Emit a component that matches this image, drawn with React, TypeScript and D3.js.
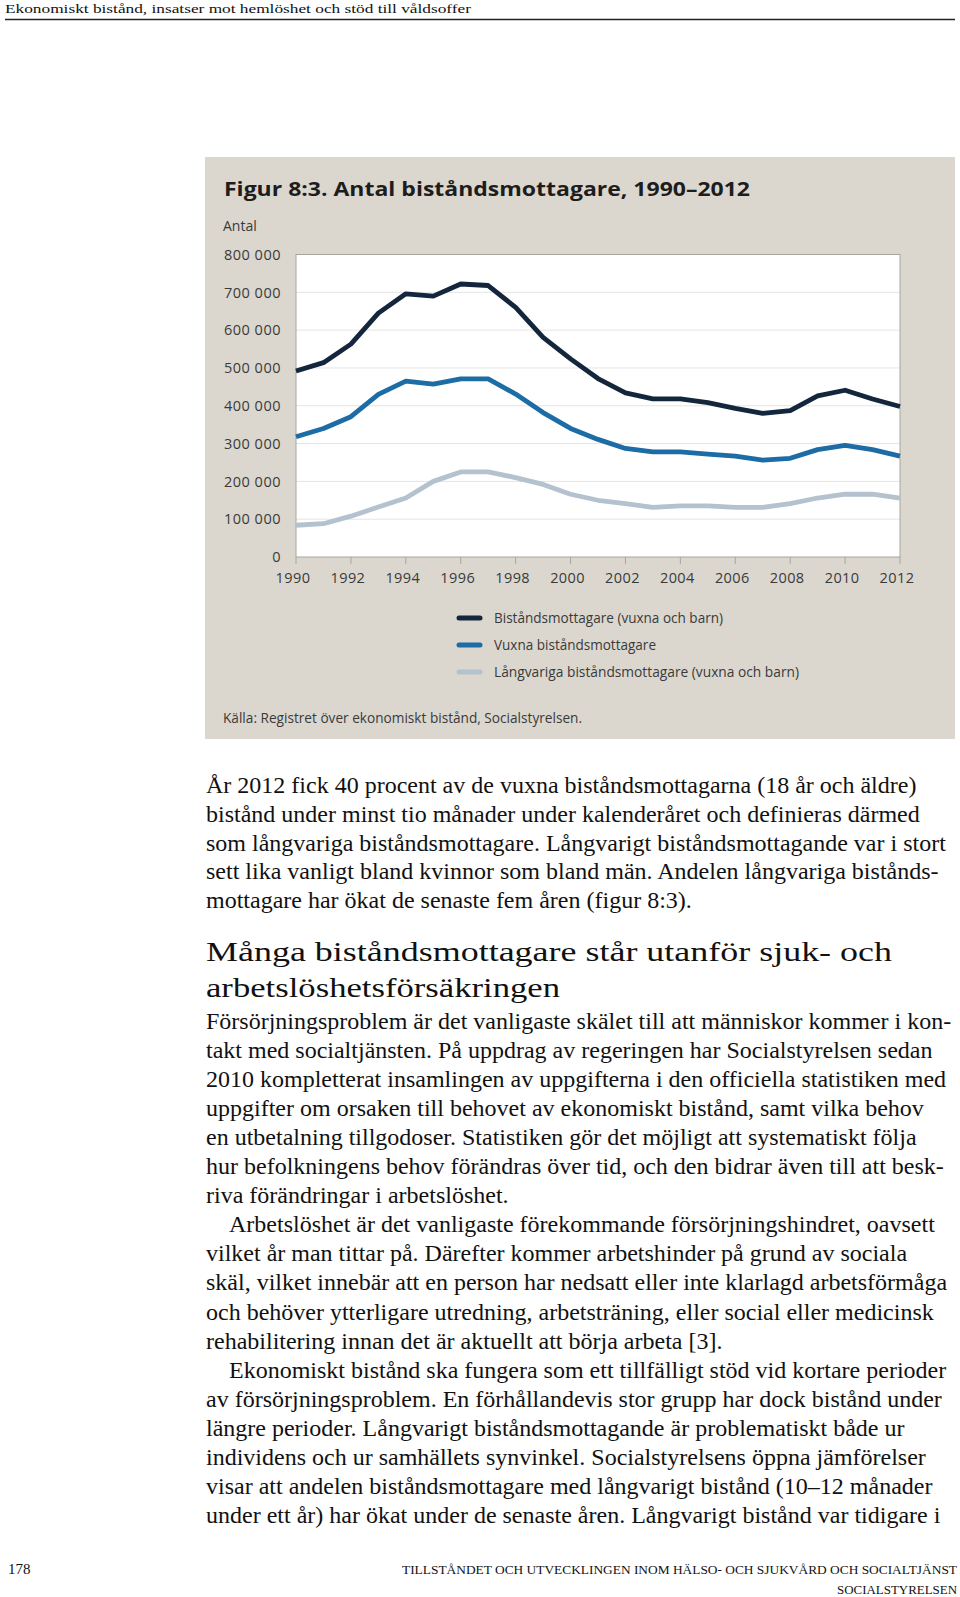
import React from "react";
import * as d3 from "d3";

// ---------- data ----------
const years = [1990, 1991, 1992, 1993, 1994, 1995, 1996, 1997, 1998, 1999, 2000, 2001, 2002, 2003, 2004, 2005, 2006, 2007, 2008, 2009, 2010, 2011, 2012];
const totalRecipients = [492000, 514000, 563000, 645000, 696000, 690000, 722000, 718000, 660000, 581000, 524000, 472000, 434000, 418000, 418000, 408000, 393000, 380000, 387000, 426000, 441000, 418000, 398000];
const adultRecipients = [318000, 340000, 371000, 430000, 465000, 457000, 471000, 471000, 431000, 382000, 340000, 311000, 287000, 278000, 278000, 272000, 267000, 256000, 261000, 284000, 295000, 284000, 267000];
const longTermRecipients = [84000, 88000, 108000, 132000, 156000, 200000, 225000, 225000, 210000, 192000, 166000, 150000, 141000, 131000, 135000, 135000, 131000, 131000, 141000, 156000, 166000, 166000, 156000];
const seriesNames = ["Biståndsmottagare (vuxna och barn)", "Vuxna biståndsmottagare", "Långvariga biståndsmottagare (vuxna och barn)"];
const yTicks = [0, 100000, 200000, 300000, 400000, 500000, 600000, 700000, 800000];
const xTicks = [1990, 1992, 1994, 1996, 1998, 2000, 2002, 2004, 2006, 2008, 2010, 2012];

const chartTitle = "Figur 8:3. Antal biståndsmottagare, 1990–2012";
const yAxisTitle = "Antal";
const sourceText = "Källa: Registret över ekonomiskt bistånd, Socialstyrelsen.";
const pageHeader = "Ekonomiskt bistånd, insatser mot hemlöshet och stöd till våldsoffer";

const para1 = [
  "År 2012 fick 40 procent av de vuxna biståndsmottagarna (18 år och äldre)",
  "bistånd under minst tio månader under kalenderåret och definieras därmed",
  "som långvariga biståndsmottagare. Långvarigt biståndsmottagande var i stort",
  "sett lika vanligt bland kvinnor som bland män. Andelen långvariga bistånds-",
  "mottagare har ökat de senaste fem åren (figur 8:3).",
];
const headingLines = ["Många biståndsmottagare står utanför sjuk- och", "arbetslöshetsförsäkringen"];
const para2 = [
  "Försörjningsproblem är det vanligaste skälet till att människor kommer i kon-",
  "takt med socialtjänsten. På uppdrag av regeringen har Socialstyrelsen sedan",
  "2010 kompletterat insamlingen av uppgifterna i den officiella statistiken med",
  "uppgifter om orsaken till behovet av ekonomiskt bistånd, samt vilka behov",
  "en utbetalning tillgodoser. Statistiken gör det möjligt att systematiskt följa",
  "hur befolkningens behov förändras över tid, och den bidrar även till att besk-",
  "riva förändringar i arbetslöshet.",
];
const para3 = [
  "Arbetslöshet är det vanligaste förekommande försörjningshindret, oavsett",
  "vilket år man tittar på. Därefter kommer arbetshinder på grund av sociala",
  "skäl, vilket innebär att en person har nedsatt eller inte klarlagd arbetsförmåga",
  "och behöver ytterligare utredning, arbetsträning, eller social eller medicinsk",
  "rehabilitering innan det är aktuellt att börja arbeta [3].",
];
const para4 = [
  "Ekonomiskt bistånd ska fungera som ett tillfälligt stöd vid kortare perioder",
  "av försörjningsproblem. En förhållandevis stor grupp har dock bistånd under",
  "längre perioder. Långvarigt biståndsmottagande är problematiskt både ur",
  "individens och ur samhällets synvinkel. Socialstyrelsens öppna jämförelser",
  "visar att andelen biståndsmottagare med långvarigt bistånd (10–12 månader",
  "under ett år) har ökat under de senaste åren. Långvarigt bistånd var tidigare i",
];
const pageNumber = "178";
const footerLine1 = "TILLSTÅNDET OCH UTVECKLINGEN INOM HÄLSO- OCH SJUKVÅRD OCH SOCIALTJÄNST";
const footerLine2 = "SOCIALSTYRELSEN";

// ---------- layout ----------
const W = 960;
const H = 1597;
const plot = { left: 296, right: 900, top: 254.5, bottom: 557 };
const colors = ["#13263c", "#1c6ca6", "#b3c2ce"];
const chartFont = "'Open Sans', 'Noto Sans', sans-serif";
const serif = "'Liberation Serif', 'DejaVu Serif', serif";

const fmt = d3.formatLocale({ decimal: ",", thousands: " ", grouping: [3], currency: ["", ""] }).format(",d");

export default function App() {
  const x = d3.scaleLinear().domain([1990, 2012]).range([plot.left, plot.right]);
  const y = d3.scaleLinear().domain([0, 800000]).range([plot.bottom, plot.top]);
  const series = [totalRecipients, adultRecipients, longTermRecipients];
  const line = d3
    .line<number>()
    .x((_, i) => x(years[i]))
    .y((d) => y(d));

  const bodyX = 206;
  const indentX = 229;
  const lh1 = 28.8;
  const lh = 29.05;
  const p1Base = 793;
  const headBase = 961;
  const p2Base = 1029;

  const renderPara = (lines: string[], startY: number, firstIndent: boolean, step: number) =>
    lines.map((t, i) => (
      <text key={t} x={i === 0 && firstIndent ? indentX : bodyX} y={startY + i * step} fontFamily={serif} fontSize={24} fill="#111">
        {t}
      </text>
    ));

  return (
    <svg width={W} height={H} style={{ position: "absolute", left: 0, top: 0, background: "#fff" }}>
      {/* page header */}
      <text x={5} y={13} fontFamily={serif} fontSize={13} fill="#111" textLength={466} lengthAdjust="spacingAndGlyphs">
        {pageHeader}
      </text>
      <line x1={5} x2={955} y1={19.5} y2={19.5} stroke="#222" strokeWidth={1.5} />

      {/* chart panel */}
      <rect x={205} y={157} width={750} height={582} fill="#dbd7ce" />
      <text x={224} y={196} fontFamily={chartFont} fontWeight={700} fontSize={20} fill="#1d1d1d" textLength={526} lengthAdjust="spacingAndGlyphs">
        {chartTitle}
      </text>
      <text x={223} y={231} fontFamily={chartFont} fontSize={14} fill="#3a3a3a">
        {yAxisTitle}
      </text>

      <rect x={plot.left} y={plot.top} width={plot.right - plot.left} height={plot.bottom - plot.top} fill="#fff" />
      {yTicks.map((t) => (
        <g key={t}>
          {t > 0 && t < 800000 && <line x1={plot.left} x2={plot.right} y1={y(t)} y2={y(t)} stroke="#e4e4e4" strokeWidth={1} />}
          <text x={281} y={y(t)} dy="0.36em" textAnchor="end" fontFamily={chartFont} fontSize={14.5} letterSpacing={0.5} fill="#3a3a3a">
            {fmt(t)}
          </text>
        </g>
      ))}
      <rect x={plot.left} y={plot.top} width={plot.right - plot.left} height={plot.bottom - plot.top} fill="none" stroke="#a8a59d" strokeWidth={1} />
      {xTicks.map((t) => (
        <g key={t}>
          <line x1={x(t)} x2={x(t)} y1={plot.bottom} y2={plot.bottom + 7} stroke="#a8a59d" strokeWidth={1} />
          <text x={x(t) - 3} y={583} textAnchor="middle" fontFamily={chartFont} fontSize={14.5} letterSpacing={0.4} fill="#3a3a3a">
            {t}
          </text>
        </g>
      ))}

      {series.map((s, i) => (
        <path key={i} d={line(s) || ""} fill="none" stroke={colors[i]} strokeWidth={4.8} strokeLinejoin="round" />
      ))}

      {/* legend */}
      {seriesNames.map((n, i) => {
        const cy = 618 + i * 27;
        const lens = [229, 162, 305];
        return (
          <g key={n}>
            <line x1={459} x2={480} y1={cy} y2={cy} stroke={colors[i]} strokeWidth={5} strokeLinecap="round" />
            <text x={494} y={cy} dy="0.35em" fontFamily={chartFont} fontSize={14.5} fill="#3a3a3a" textLength={lens[i]} lengthAdjust="spacingAndGlyphs">
              {n}
            </text>
          </g>
        );
      })}
      <text x={223} y={718} dy="0.35em" fontFamily={chartFont} fontSize={14.5} fill="#3a3a3a" textLength={359} lengthAdjust="spacingAndGlyphs">
        {sourceText}
      </text>

      {/* body */}
      {renderPara(para1, p1Base, false, lh1)}
      {headingLines.map((t, i) => (
        <text key={t} x={bodyX} y={headBase + i * 36} fontFamily={serif} fontSize={27} fill="#111" textLength={i === 0 ? 686 : 354} lengthAdjust="spacingAndGlyphs">
          {t}
        </text>
      ))}
      {renderPara(para2, p2Base, false, lh)}
      {renderPara(para3, p2Base + para2.length * lh, true, lh)}
      {renderPara(para4, p2Base + (para2.length + para3.length) * lh, true, lh)}

      {/* footer */}
      <text x={8} y={1574} fontFamily={serif} fontSize={15} fill="#111">
        {pageNumber}
      </text>
      <text x={957} y={1574} textAnchor="end" fontFamily={serif} fontSize={12} fill="#111" textLength={555} lengthAdjust="spacingAndGlyphs">
        {footerLine1}
      </text>
      <text x={957} y={1594} textAnchor="end" fontFamily={serif} fontSize={12} fill="#111" textLength={120} lengthAdjust="spacingAndGlyphs">
        {footerLine2}
      </text>
    </svg>
  );
}
